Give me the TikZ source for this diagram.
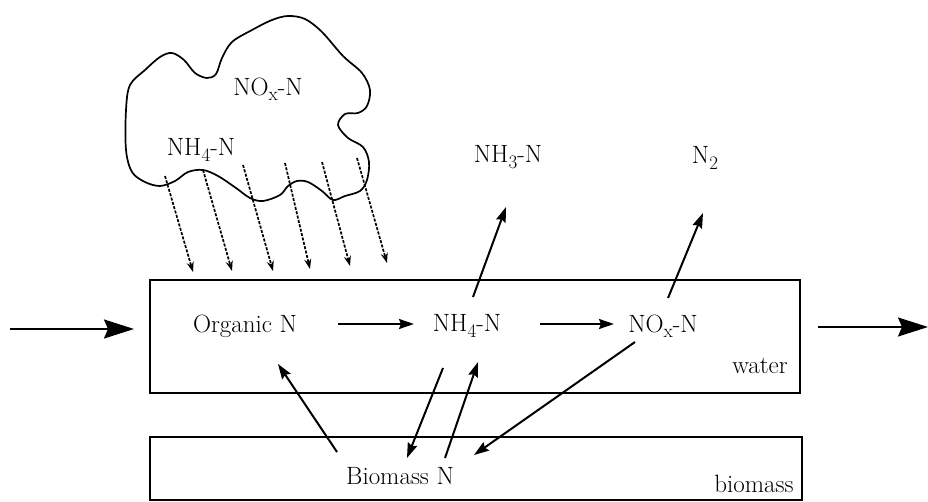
\documentclass[tikz,border=0pt]{standalone}
\usepackage{fontspec}
\usetikzlibrary{arrows.meta,calc}
\newcommand\mysub[1]{\raisebox{-0.5ex}{\fontsize{19}{21}\selectfont #1}}
\tikzset{
  boxline/.style={draw, line width=2.3pt},
  lbl/.style={font=\fontsize{25}{29}\selectfont, inner sep=1pt},
  arr/.style={line width=2pt, -{Stealth[length=15pt,width=10pt,inset=2pt]}},
  bigarr/.style={line width=2pt, -{Stealth[length=30pt,width=19pt,inset=4pt]}},
  rain/.style={line width=1.7pt, dash pattern=on 3pt off 1.5pt, -{Stealth[length=10pt,width=7pt]}},
  cloudline/.style={line width=1.7pt}
}
\begin{document}
\begin{tikzpicture}[x=1pt,y=-1pt]
\useasboundingbox (0,0) rectangle (928,502);
% boxes
\draw[boxline] (150,280) rectangle (800,393);
\draw[boxline] (150,437) rectangle (802,500);
% cloud
\draw[cloudline] plot[smooth cycle, tension=0.55] coordinates {
 (130,85) (145,70) (160,57) (172,53) (184,60) (195,73) (207,78) (216,74)
 (222,58) (232,42) (252,30) (272,20) (288,16) (305,19) (322,32) (343,56)
 (362,73) (370,90) (367,106) (358,113) (345,114) (338,125) (348,138) (363,147)
 (369,162) (367,180) (360,191) (345,196) (333,200) (322,191) (308,182) (297,181)
 (288,186) (280,195) (263,201) (250,198) (236,188) (218,176) (203,170) (188,172)
 (175,181) (160,186) (145,182) (132,172) (126,150) (126,110)};
% labels
\node[lbl] (cnox) at (268,89) {NO\mysub{x}-N};
\node[lbl] (cnh4) at (201,150) {NH\mysub{4}-N};
\node[lbl] (org) at (245,326) {Organic N};
\node[lbl] (nh4) at (467,326) {NH\mysub{4}-N};
\node[lbl] (nox) at (663,326) {NO\mysub{x}-N};
\node[lbl] (water) at (760,366) {water};
\node[lbl] (nh3) at (508,157) {NH\mysub{3}-N};
\node[lbl] (n2) at (705,158) {N\mysub{2}};
\node[lbl] (bio) at (400,476) {Biomass N};
\node[lbl] (biomass) at (754,484) {biomass};
% rain arrows
\foreach \i/\xa/\ya/\xb/\yb in {1/165/176/193/272, 2/203/170/232/271, 3/243/165/273/271,
  4/285/163/310/269, 5/322/162/350/266, 6/357/158/387/263}{
  \coordinate (r\i a) at (\xa,\ya);
  \coordinate (r\i b) at (\xb,\yb);
  \draw[rain] (r\i a) -- (r\i b);
}
% in/out flow
\coordinate (inL) at (10,329);
\coordinate (inR) at (134,329);
\coordinate (outL) at (818,327);
\coordinate (outR) at (928,327);
\draw[bigarr] (inL) -- (inR);
\draw[bigarr] (outL) -- (outR);
% water-column arrows
\coordinate (o1) at (338,324); \coordinate (o2) at (414,324);
\coordinate (h1) at (540,324); \coordinate (h2) at (614,324);
\coordinate (u1) at (473,297); \coordinate (u2) at (506,207);
\coordinate (d1) at (668,298); \coordinate (d2) at (703,213);
\coordinate (b1) at (635,342); \coordinate (b2) at (474,455);
\coordinate (g1) at (337,452); \coordinate (g2) at (278,364);
\coordinate (k1) at (443,368); \coordinate (k2) at (407,458);
\coordinate (m1) at (445,458); \coordinate (m2) at (478,362);
\draw[arr] (o1) -- (o2);
\draw[arr] (h1) -- (h2);
\draw[arr] (u1) -- (u2);
\draw[arr] (d1) -- (d2);
\draw[arr] (b1) -- (b2);
\draw[arr] (g1) -- (g2);
\draw[arr] (k1) -- (k2);
\draw[arr] (m1) -- (m2);
\end{tikzpicture}
\end{document}
